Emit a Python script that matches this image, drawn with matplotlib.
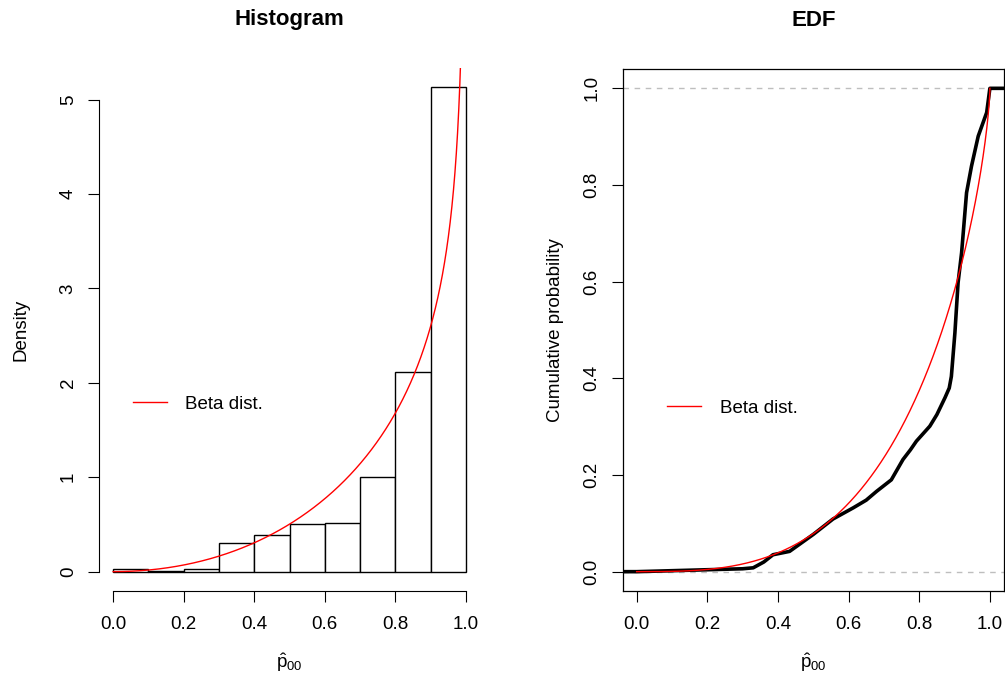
import numpy as np
import matplotlib
matplotlib.use("Agg")
import matplotlib.pyplot as plt
from math import lgamma

# ---------------- data ----------------
bin_edges = [0.0, 0.1, 0.2, 0.3, 0.4, 0.5, 0.6, 0.7, 0.8, 0.9, 1.0]
hist_density = [0.03, 0.01, 0.03, 0.30, 0.39, 0.50, 0.51, 1.00, 2.11, 5.13]
beta_a = 3.0
beta_b = 0.71
edf_x = [-0.04, 0.0, 0.10, 0.20, 0.30, 0.33, 0.36, 0.386, 0.433, 0.50, 0.556,
         0.613, 0.650, 0.679, 0.721, 0.754, 0.775, 0.792, 0.830, 0.850, 0.873,
         0.885, 0.891, 0.901, 0.910, 0.920, 0.934, 0.948, 0.967, 0.991, 1.0, 1.04]
edf_y = [0.0, 0.0, 0.002, 0.004, 0.006, 0.008, 0.02, 0.035, 0.042, 0.077, 0.109,
         0.132, 0.148, 0.166, 0.190, 0.232, 0.252, 0.270, 0.301, 0.325, 0.360,
         0.380, 0.404, 0.494, 0.598, 0.660, 0.784, 0.839, 0.901, 0.950, 1.0, 1.0]
x_ticks = [0.0, 0.2, 0.4, 0.6, 0.8, 1.0]
x_tick_labels = ["0.0", "0.2", "0.4", "0.6", "0.8", "1.0"]
hist_y_ticks = [0, 1, 2, 3, 4, 5]
edf_y_ticks = [0.0, 0.2, 0.4, 0.6, 0.8, 1.0]
edf_y_tick_labels = ["0.0", "0.2", "0.4", "0.6", "0.8", "1.0"]
legend_label = "Beta dist."
xlabel = r"$\hat{\mathrm{p}}_{00}$"

# ---------------- style ----------------
plt.rcParams["font.family"] = ["Liberation Sans", "DejaVu Sans"]
plt.rcParams["mathtext.fontset"] = "custom"
plt.rcParams["mathtext.rm"] = "Liberation Sans"
plt.rcParams["mathtext.it"] = "Liberation Sans:italic"
plt.rcParams["mathtext.bf"] = "Liberation Sans:bold"
FS = 13.5
TFS = 16

def beta_pdf(x, a, b):
    lb = lgamma(a) + lgamma(b) - lgamma(a + b)
    return np.exp((a - 1) * np.log(x) + (b - 1) * np.log1p(-x) - lb)

fig = plt.figure(figsize=(10.05, 6.82), dpi=100)
W, H = 1005, 682

def axes_px(x0, x1, y0, y1):
    return fig.add_axes([x0 / W, 1 - y1 / H, (x1 - x0) / W, (y1 - y0) / H])

def style_ticks(ax):
    ax.tick_params(axis="both", direction="out", length=8, width=0.8,
                   labelsize=FS, colors="black")
    ax.tick_params(axis="x", pad=10)
    ax.tick_params(axis="y", pad=8)
    for lab in ax.get_yticklabels():
        lab.set_rotation(90)
        lab.set_va("center")

# ---------------- histogram ----------------
ax1 = axes_px(99, 480, 68, 591)
lefts = bin_edges[:-1]
widths = np.diff(bin_edges)
ax1.bar(lefts, hist_density, width=widths, align="edge", facecolor="white",
        edgecolor="black", linewidth=1.0)
xx = np.linspace(1e-4, 0.9999, 2000)
ax1.plot(xx, beta_pdf(xx, beta_a, beta_b), color="red", lw=1.0,
         label=legend_label)
ymax = max(hist_density)
ax1.set_xlim(-0.04, 1.04)
ax1.set_ylim(-0.04 * ymax, 1.04 * ymax)
for s in ["top", "right"]:
    ax1.spines[s].set_visible(False)
ax1.spines["left"].set_bounds(0, 5)
ax1.spines["bottom"].set_bounds(0, 1)
ax1.set_xticks(x_ticks)
ax1.set_xticklabels(x_tick_labels)
ax1.set_yticks(hist_y_ticks)
ax1.set_yticklabels([str(v) for v in hist_y_ticks])
style_ticks(ax1)
ax1.set_title("Histogram", fontsize=TFS, fontweight="bold", pad=31)
ax1.set_ylabel("Density", fontsize=FS, labelpad=22)
ax1.set_xlabel(xlabel, fontsize=FS, labelpad=13)
ax1.legend(loc="center left", bbox_to_anchor=(0.089, 0.357), frameon=False,
           fontsize=FS, borderpad=0, borderaxespad=0, handlelength=1.8,
           handletextpad=1.0)

# ---------------- EDF ----------------
ax2 = axes_px(622.5, 1004, 69, 591)
ax2.axhline(0, color="#bebebe", lw=1.0, ls=(0, (4, 4)))
ax2.axhline(1, color="#bebebe", lw=1.0, ls=(0, (4, 4)))
ax2.plot(edf_x, edf_y, color="black", lw=2.6, solid_joinstyle="round")
xc = np.linspace(1e-5, 1 - 1e-7, 20000)
pdf = beta_pdf(xc, beta_a, beta_b)
cdf = np.concatenate([[0], np.cumsum((pdf[1:] + pdf[:-1]) / 2 * np.diff(xc))])
cdf = cdf / cdf[-1]
ax2.plot(xc, cdf, color="red", lw=1.0, label=legend_label)
ax2.set_xlim(-0.04, 1.04)
ax2.set_ylim(-0.04, 1.04)
for s in ax2.spines.values():
    s.set_linewidth(0.9)
ax2.set_xticks(x_ticks)
ax2.set_xticklabels(x_tick_labels)
ax2.set_yticks(edf_y_ticks)
ax2.set_yticklabels(edf_y_tick_labels)
style_ticks(ax2)
ax2.set_title("EDF", fontsize=TFS, fontweight="bold", pad=31)
ax2.set_ylabel("Cumulative probability", fontsize=FS, labelpad=14)
ax2.set_xlabel(xlabel, fontsize=FS, labelpad=13)
ax2.legend(loc="center left", bbox_to_anchor=(0.117, 0.35), frameon=False,
           fontsize=FS, borderpad=0, borderaxespad=0, handlelength=1.8,
           handletextpad=1.0)

fig.savefig("out.png", dpi=100)
